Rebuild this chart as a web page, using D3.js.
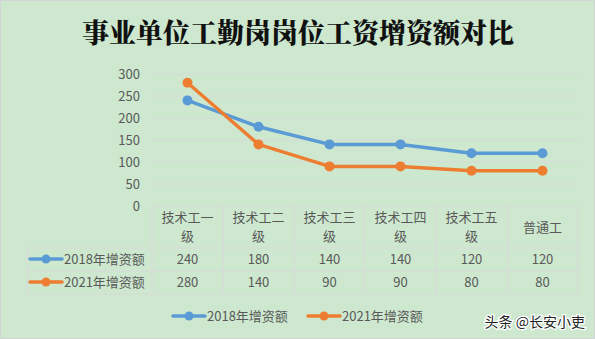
<!DOCTYPE html>
<html><head><meta charset="utf-8">
<script src="https://cdn.jsdelivr.net/npm/d3@7/dist/d3.min.js"></script>
<style>
html,body{margin:0;padding:0;background:#cde8cf;}
svg{display:block;}
</style></head>
<body>
<svg id="chart" width="595" height="339"></svg>
<script>
const categories = ["技术工一级", "技术工二级", "技术工三级", "技术工四级", "技术工五级", "普通工"];
const headerLines = [["技术工一", "级"], ["技术工二", "级"], ["技术工三", "级"], ["技术工四", "级"], ["技术工五", "级"], ["普通工"]];
const series2018 = [240, 180, 140, 140, 120, 120];
const series2021 = [280, 140, 90, 90, 80, 80];
const yTicks = [0, 50, 100, 150, 200, 250, 300];
const seriesNames = ["2018年增资额", "2021年增资额"];
const colors = ["#5b9bd5", "#ed7d31"];

const svg = d3.select("#chart");
const W = 595, H = 339;
const font = "'Noto Sans CJK SC', 'Noto Sans', sans-serif";
const textColor = "#595959";
const gridColor = "#d9d9d9";

svg.append("rect").attr("x", 0.5).attr("y", 0.5).attr("width", W - 1).attr("height", H - 1)
  .attr("fill", "#cde8cf").attr("stroke", "#d4d4d4");

svg.append("text").attr("x", 298).attr("y", 43).attr("text-anchor", "middle")
  .attr("font-family", "'Noto Serif CJK SC', 'Noto Sans CJK SC', serif").attr("font-weight", 900)
  .attr("font-size", 27).attr("fill", "#111").text("事业单位工勤岗岗位工资增资额对比");

const x = d3.scaleBand().domain(categories).range([152, 578]);
const y = d3.scaleLinear().domain([0, 300]).range([206, 74]);

// grid
svg.append("g").selectAll("line").data(yTicks.filter(d => d > 0)).join("line")
  .attr("x1", 152).attr("x2", 578).attr("y1", d => y(d)).attr("y2", d => y(d))
  .attr("stroke", gridColor).attr("stroke-width", 1);

// y axis labels
const yAxis = d3.axisLeft(y).tickValues(yTicks).tickSize(0).tickPadding(12);
const ya = svg.append("g").attr("transform", "translate(152,0)").call(yAxis);
ya.select(".domain").remove();
ya.selectAll("text").attr("font-family", font).attr("font-size", 13).attr("fill", textColor);

// data table
const rowTop = 206, headerBottom = 248, row1Bottom = 271, row2Bottom = 294, tableLeft = 27;
const tg = svg.append("g").attr("stroke", gridColor).attr("stroke-width", 1.2);
[rowTop].forEach(v => tg.append("line").attr("x1", 152).attr("x2", 578).attr("y1", v).attr("y2", v));
[headerBottom, row1Bottom, row2Bottom].forEach(v => tg.append("line").attr("x1", tableLeft).attr("x2", 578).attr("y1", v).attr("y2", v));
tg.append("line").attr("x1", tableLeft).attr("x2", tableLeft).attr("y1", headerBottom).attr("y2", row2Bottom);
const bounds = categories.map(c => x(c)).concat([x.range()[1]]);
tg.selectAll(".vl").data(bounds).join("line").attr("class", "vl")
  .attr("x1", d => d).attr("x2", d => d).attr("y1", rowTop).attr("y2", row2Bottom);

// header labels
const hg = svg.append("g").attr("font-family", font).attr("font-size", 13).attr("fill", textColor).attr("text-anchor", "middle");
categories.forEach((c, i) => {
  const lines = headerLines[i];
  const cx = x(c) + x.bandwidth() / 2;
  const startY = lines.length === 1 ? 232 : 222;
  lines.forEach((t, j) => hg.append("text").attr("x", cx).attr("y", startY + j * 19).text(t));
});

// value rows
[series2018, series2021].forEach((vals, si) => {
  const cy = si === 0 ? 264 : 287;
  hg.selectAll(".v" + si).data(vals).join("text").attr("class", "v" + si)
    .attr("x", (d, i) => x(categories[i]) + x.bandwidth() / 2).attr("y", cy).text(d => d);
  // row key + name
  svg.append("line").attr("x1", 30).attr("x2", 62).attr("y1", cy - 5).attr("y2", cy - 5)
    .attr("stroke", colors[si]).attr("stroke-width", 3.5).attr("stroke-linecap", "round");
  svg.append("circle").attr("cx", 46).attr("cy", cy - 5).attr("r", 4.5).attr("fill", colors[si]);
  svg.append("text").attr("x", 64).attr("y", cy).attr("font-family", font).attr("font-size", 13)
    .attr("fill", textColor).text(seriesNames[si]);
});

// lines
const line = d3.line().x((d, i) => x(categories[i]) + x.bandwidth() / 2).y(d => y(d));
[series2018, series2021].forEach((vals, si) => {
  svg.append("path").attr("d", line(vals)).attr("fill", "none").attr("stroke", colors[si])
    .attr("stroke-width", 3.5).attr("stroke-linejoin", "round").attr("stroke-linecap", "round");
  svg.append("g").selectAll("circle").data(vals).join("circle")
    .attr("cx", (d, i) => x(categories[i]) + x.bandwidth() / 2).attr("cy", d => y(d))
    .attr("r", 5).attr("fill", colors[si]);
});

// legend
const legendX = [173, 308];
seriesNames.forEach((n, si) => {
  const lx = legendX[si], ly = 316;
  svg.append("line").attr("x1", lx).attr("x2", lx + 32).attr("y1", ly).attr("y2", ly)
    .attr("stroke", colors[si]).attr("stroke-width", 3.5).attr("stroke-linecap", "round");
  svg.append("circle").attr("cx", lx + 16).attr("cy", ly).attr("r", 4.5).attr("fill", colors[si]);
  svg.append("text").attr("x", lx + 34).attr("y", ly + 5).attr("font-family", font).attr("font-size", 13)
    .attr("fill", textColor).text(n);
});

// watermark
svg.append("text").attr("x", 585).attr("y", 327).attr("text-anchor", "end")
  .attr("font-family", font).attr("font-size", 14).attr("fill", "#222")
  .attr("stroke", "#ffffff").attr("stroke-width", 2.5).attr("paint-order", "stroke")
  .text("头条 @长安小吏");
</script>
</body></html>
